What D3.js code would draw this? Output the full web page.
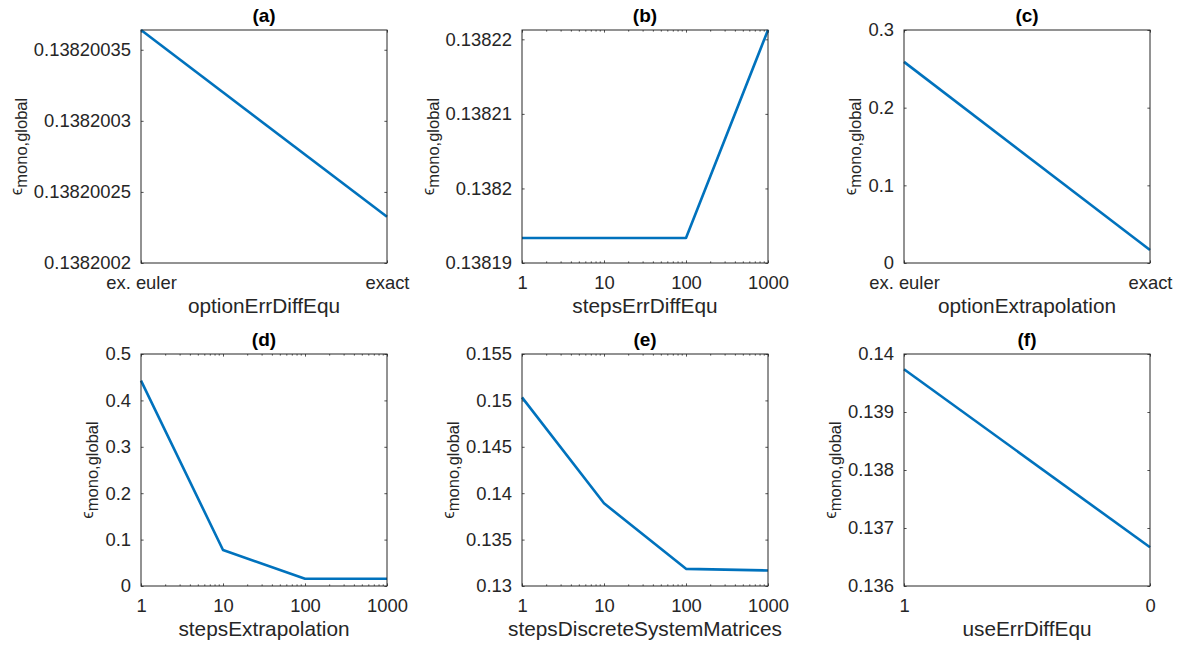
<!DOCTYPE html>
<html><head><meta charset="utf-8">
<script src="https://cdn.jsdelivr.net/npm/d3@7"></script>
<style>body{margin:0;background:#fff}svg{display:block}</style>
</head><body>
<svg id="c" width="1184" height="648"></svg>
<script>
// ---------- data ----------
const titles = ["(a)", "(b)", "(c)", "(d)", "(e)", "(f)"];
const xLabels = ["optionErrDiffEqu", "stepsErrDiffEqu", "optionExtrapolation",
                 "stepsExtrapolation", "stepsDiscreteSystemMatrices", "useErrDiffEqu"];
const optionCats = ["ex. euler", "exact"];
const useCats = ["1", "0"];
const steps = [1, 10, 100, 1000];

const valsA = [0.1382003639, 0.1382002325];
const valsB = [0.13819335, 0.13819335, 0.13819335, 0.13822125];
const valsC = [0.259, 0.0167];
const valsD = [0.4425, 0.0776, 0.0157, 0.0157];
const valsE = [0.15033, 0.13891, 0.13185, 0.13167];
const valsF = [0.139737, 0.136667];

const yTicksA = [0.1382002, 0.13820025, 0.1382003, 0.13820035];
const yTicksB = [0.13819, 0.1382, 0.13821, 0.13822];
const yTicksC = [0, 0.1, 0.2, 0.3];
const yTicksD = [0, 0.1, 0.2, 0.3, 0.4, 0.5];
const yTicksE = [0.13, 0.135, 0.14, 0.145, 0.15, 0.155];
const yTicksF = [0.136, 0.137, 0.138, 0.139, 0.14];

const specs = [
  {type: "cat", x: optionCats, v: valsA, yt: yTicksA},
  {type: "log", x: steps, v: valsB, yt: yTicksB},
  {type: "cat", x: optionCats, v: valsC, yt: yTicksC},
  {type: "log", x: steps, v: valsD, yt: yTicksD},
  {type: "log", x: steps, v: valsE, yt: yTicksE},
  {type: "cat", x: useCats, v: valsF, yt: yTicksF}
];

// ---------- layout ----------
const svg = d3.select("#c");
const FONT = "'Liberation Sans', Arial, Helvetica, sans-serif";
const INK = "#262626";
const LINE = "#0072BD";
const colX = [141, 522, 904];
const rowY = [30, 354];
const PW = 246, PH = [233, 232];
const TL = 2.6, TLm = 1.6;
const fmt = v => String(+v.toPrecision(10));

specs.forEach((s, i) => {
  const col = i % 3, row = Math.floor(i / 3);
  const w = PW, h = PH[row];
  const g = svg.append("g").attr("transform", `translate(${colX[col]},${rowY[row]})`);

  const x = s.type === "cat"
    ? d3.scalePoint().domain(s.x).range([0, w])
    : d3.scaleLog().domain([1, 1000]).range([0, w]);
  const yMax = Math.max(s.yt[s.yt.length - 1], d3.max(s.v));
  const y = d3.scaleLinear().domain([s.yt[0], yMax]).range([h, 0]);

  const xTickVals = s.type === "cat" ? s.x : steps;

  // axes
  const ax = (gen) => gen.tickSizeOuter(0).tickSizeInner(-TL);
  const bottom = g.append("g").attr("transform", `translate(0,${h})`)
    .call(ax(d3.axisBottom(x)).tickValues(xTickVals).tickPadding(13)
      .tickFormat(d => String(d)));
  const top = g.append("g")
    .call(ax(d3.axisTop(x)).tickValues(xTickVals).tickFormat(""));
  const left = g.append("g")
    .call(ax(d3.axisLeft(y)).tickValues(s.yt).tickPadding(10).tickFormat(fmt));
  const right = g.append("g").attr("transform", `translate(${w},0)`)
    .call(ax(d3.axisRight(y)).tickValues(s.yt).tickFormat(""));

  [bottom, top, left, right].forEach(a => {
    a.select(".domain").remove();
    a.selectAll("line").attr("stroke", INK).attr("stroke-width", 0.8);
    a.selectAll("text").attr("fill", INK).style("font-family", FONT).style("font-size", "18.4px");
  });

  // log minor ticks
  if (s.type === "log") {
    const minors = [];
    [1, 10, 100].forEach(dec => { for (let k = 2; k <= 9; k++) minors.push(dec * k); });
    g.append("g").selectAll("line.mb").data(minors).join("line")
      .attr("x1", d => x(d)).attr("x2", d => x(d)).attr("y1", h).attr("y2", h - TLm)
      .attr("stroke", INK).attr("stroke-width", 0.8);
    g.append("g").selectAll("line.mt").data(minors).join("line")
      .attr("x1", d => x(d)).attr("x2", d => x(d)).attr("y1", 0).attr("y2", TLm)
      .attr("stroke", INK).attr("stroke-width", 0.8);
  }

  // data line
  const line = d3.line().x((d, j) => x(s.x[j])).y(d => y(d));
  g.append("path").datum(s.v).attr("d", line)
    .attr("fill", "none").attr("stroke", LINE).attr("stroke-width", 2.6)
    .attr("stroke-linejoin", "round");

  // box
  g.append("rect").attr("x", 0).attr("y", 0).attr("width", w).attr("height", h)
    .attr("fill", "none").attr("stroke", INK).attr("stroke-width", 1);

  // title
  g.append("text").attr("x", w / 2).attr("y", -8).attr("text-anchor", "middle")
    .style("font-family", FONT).style("font-size", "19px").style("font-weight", "bold")
    .attr("fill", "#000").text(titles[i]);

  // x label
  g.append("text").attr("x", w / 2).attr("y", h + 50).attr("text-anchor", "middle")
    .style("font-family", FONT).style("font-size", "20.8px").attr("fill", INK)
    .text(xLabels[i]);

  // y label
  let minX = Infinity;
  left.selectAll("text").each(function () {
    const b = this.getBoundingClientRect();
    minX = Math.min(minX, b.left);
  });
  const yl = g.append("text").attr("transform", `translate(0,${h / 2}) rotate(-90)`)
    .attr("text-anchor", "middle")
    .style("font-family", FONT).attr("fill", INK);
  yl.append("tspan").style("font-size", "17px").text("ϵ");
  yl.append("tspan").style("font-size", "16.5px").attr("dy", "5").text("mono,global");
  const r = yl.node().getBoundingClientRect();
  const target = minX - 4;
  yl.attr("transform", `translate(${target - r.right},${h / 2}) rotate(-90)`);
});
</script>
</body></html>
